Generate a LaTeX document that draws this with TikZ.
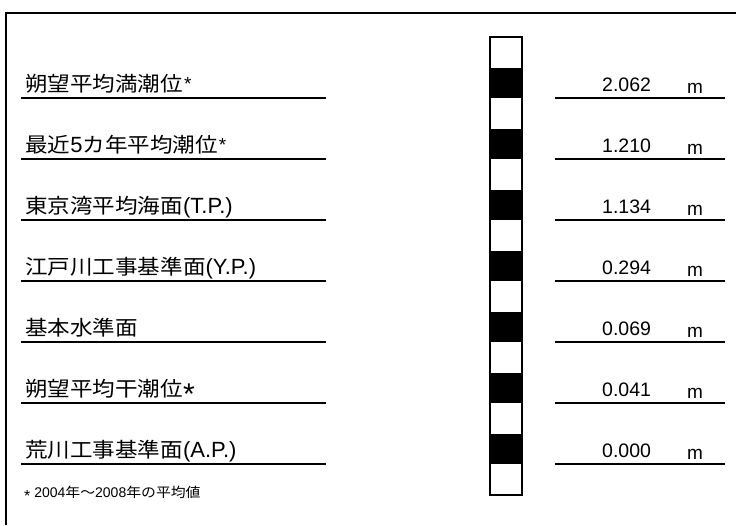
\documentclass[tikz,border=0pt]{standalone}
\usepackage{fontspec}
\setmainfont{Liberation Sans}
\newfontfamily\cjk{Noto Sans CJK JP}
\newcommand\jp[1]{\scalebox{1.1}[1]{\fontsize{20.5}{20.5}\selectfont\cjk #1}}
\newcommand\jps[1]{\scalebox{1.1}[1]{\fontsize{13.5}{13.5}\selectfont\cjk #1}}
\begin{document}
\begin{tikzpicture}[x=1pt,y=-1pt,
  lab/.style={anchor=base west, inner sep=0pt, font=\fontsize{22}{22}\selectfont},
  num/.style={anchor=base west, inner sep=0pt, font=\fontsize{19.5}{19.5}\selectfont},
  unit/.style={anchor=base west, inner sep=0pt, font=\fontsize{19}{19}\selectfont},
  rule/.style={line width=2pt},
  frame/.style={line width=2.5pt, line join=miter},
]
\useasboundingbox (0,0) rectangle (736,525);
% outer frame (open to right and bottom)
\draw[frame] (6,525) -- (6,13) -- (736,13);
% underlines
\foreach \i in {0,...,6} {
  \pgfmathsetmacro\yy{98+61*\i}
  \draw[rule] (21,\yy) -- (326,\yy);
  \draw[rule] (555,\yy) -- (725,\yy);
}
% labels
\node[lab] (L1) at (25,91.5) {\jp{朔望平均満潮位}\kern1pt\raisebox{1pt}{\fontsize{19}{19}\selectfont *}};
\node[lab] (L2) at (25,152.5) {\jp{最近}5\jp{カ年平均潮位}\kern1pt\raisebox{1pt}{\fontsize{19}{19}\selectfont *}};
\node[lab] (L3) at (25,213.5) {\jp{東京湾平均海面}(T.P.)};
\node[lab] (L4) at (25,274.5) {\jp{江戸川工事基準面}(Y.P.)};
\node[lab] (L5) at (25,335.5) {\jp{基本水準面}};
\node[lab] (L6) at (25,396.5) {\jp{朔望平均干潮位}\raisebox{-8pt}{\fontsize{30}{30}\selectfont *}};
\node[lab] (L7) at (25,457.5) {\jp{荒川工事基準面}(A.P.)};
% values
\node[num] (V1) at (602,91.5) {2.062};
\node[num] (V2) at (602,152.5) {1.210};
\node[num] (V3) at (602,213.5) {1.134};
\node[num] (V4) at (602,274.5) {0.294};
\node[num] (V5) at (602,335.5) {0.069};
\node[num] (V6) at (602,396.5) {0.041};
\node[num] (V7) at (602,457.5) {0.000};
% units
\foreach \i in {1,...,7} {
  \pgfmathsetmacro\yy{93.5+61*(\i-1)}
  \node[unit] (U\i) at (687,\yy) {m};
}
% ruler
\fill[white] (490,37) rectangle (522,494.5);
\foreach \k in {1,3,...,13} {
  \fill[black] (490,{37+30.5*\k}) rectangle (522,{67.5+30.5*\k});
}
\draw[line width=2pt] (490,37) rectangle (522,494.5);
% footnote
\node[anchor=base west, inner sep=0pt, font=\fontsize{14}{14}\selectfont] (F) at (24,497.5)
  {\raisebox{-3.5pt}{\fontsize{16}{16}\selectfont *} 2004\jps{年～}2008\jps{年の平均値}};
\end{tikzpicture}
\end{document}
